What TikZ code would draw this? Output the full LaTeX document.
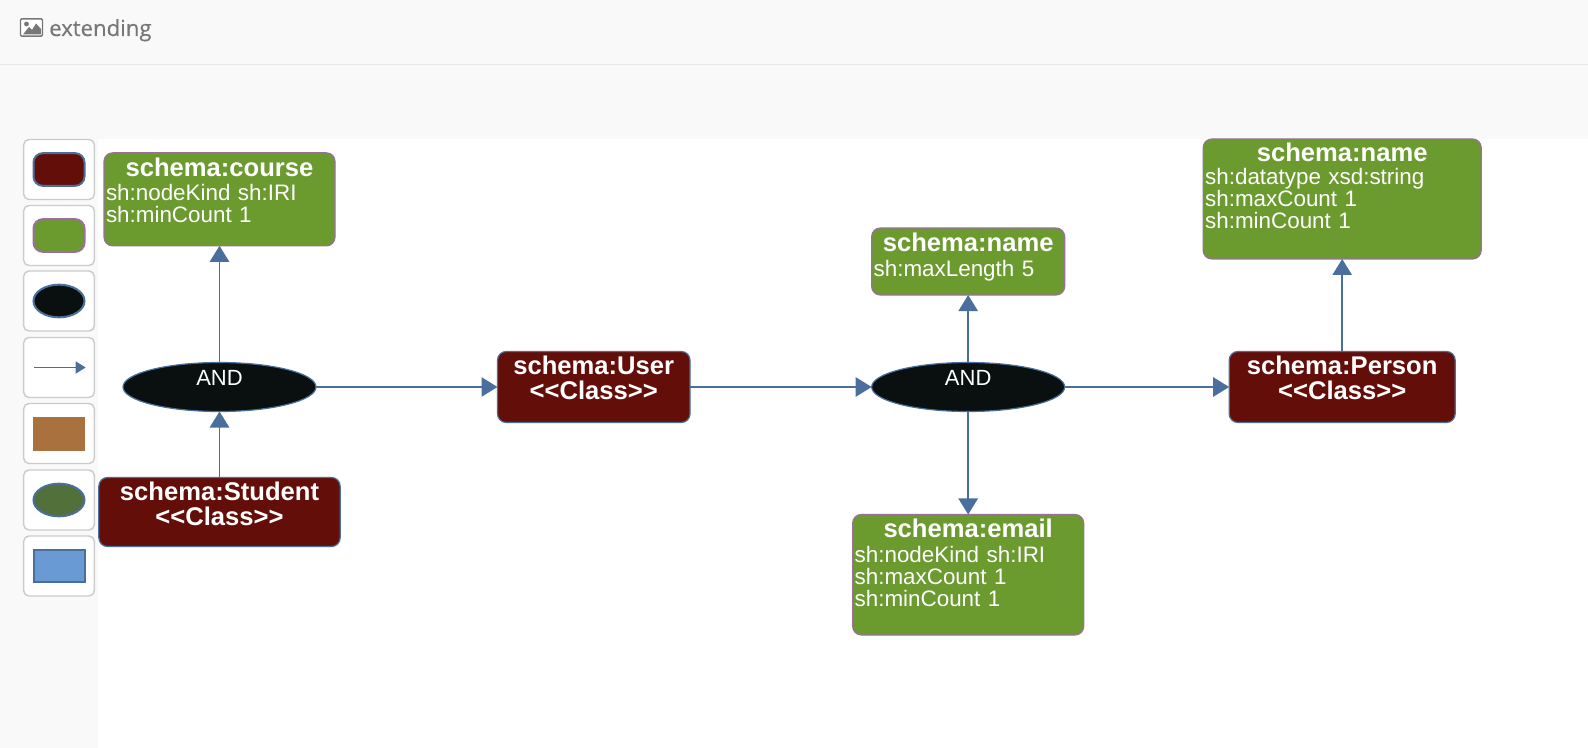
\documentclass[tikz,border=0pt]{standalone}
\usepackage{fontspec}
\setmainfont{Liberation Sans}
\newfontfamily\headfont[FakeBold=0.4]{Open Sans}
\usetikzlibrary{arrows.meta,positioning,shapes.geometric}

\definecolor{panelgray}{HTML}{F9F9F9}
\definecolor{headline}{HTML}{E7E7E7}
\definecolor{headtext}{HTML}{777777}
\definecolor{btnborder}{HTML}{CCCCCC}
\definecolor{edgeblue}{HTML}{4A6F9C}
\definecolor{classred}{HTML}{630E09}
\definecolor{shapegreen}{HTML}{6B9A2F}
\definecolor{shapeborder}{HTML}{9B6F9B}
\definecolor{andblack}{HTML}{0A0F0F}
\definecolor{legendbrown}{HTML}{A9713D}
\definecolor{legendgreen}{HTML}{52703A}
\definecolor{legendblue}{HTML}{6A9AD3}

\newcommand{\shapetitle}[1]{{\centering\bfseries\fontsize{19.2}{25}\selectfont #1\par}\vspace*{2pt}}
\newcommand{\classline}{{<}\kern0pt{<}Class{>}\kern0pt{>}}

\begin{document}
\begin{tikzpicture}[x=0.75pt,y=-0.75pt,>={Triangle[length=12pt,width=14.5pt,fill=edgeblue]},
    edge/.style={->,color=edgeblue,line width=1.2pt},
    class node/.style={rectangle,rounded corners=6.5pt,fill=classred,draw=edgeblue,line width=0.9pt,
      text=white,inner xsep=1.5pt,inner ysep=0pt,outer sep=0pt,align=center,
      font=\bfseries\fontsize{19.2}{18.75}\selectfont},
    shape node/.style={rectangle,rounded corners=6.5pt,fill=shapegreen,draw=shapeborder,line width=0.9pt,
      text=white,inner xsep=1.5pt,inner ysep=0pt,outer sep=0pt,
      font=\fontsize{16.8}{16.5}\selectfont},
    and node/.style={ellipse,fill=andblack,draw=edgeblue,line width=0.9pt,inner sep=0pt,outer sep=0pt,
      minimum width=144.75pt,minimum height=36.75pt,text=white,text height=11.8pt,text depth=13.3pt,
      font=\fontsize{16.5}{18}\selectfont},
    legend button/.style={rectangle,rounded corners=4pt,fill=white,draw=btnborder,line width=1.1pt,
      minimum width=53pt,minimum height=45pt,inner sep=0pt},
    legend glyph/.style={inner sep=0pt,minimum width=38.25pt,minimum height=24.5pt,line width=1.5pt}]
    \useasboundingbox (0,0) rectangle (1588,748);
    \fill[panelgray] (0,0) rectangle (1588,748);
    \fill[white] (98,139) rectangle (1588,748);
    \draw[headline,line width=1.2pt] (0,64.5) -- (1588,64.5);

    % header
    \node[inner sep=0pt,anchor=base west,text=headtext,font=\headfont\fontsize{16.6}{20}\selectfont] (title) at (49,36) {extending};
    \node[draw=headtext,fill=white,rounded corners=1pt,line width=1.1pt,inner sep=0pt,
      minimum width=16.5pt,minimum height=13pt] (titleicon) at (31.5,27.5) {};
    \fill[headtext] (23,34.5) -- (29,27) -- (32,30) -- (36,23.5) -- (41,29) -- (41,34.5) -- cycle;
    \fill[headtext] (26.5,24) circle (2.4);

    % legend
    \foreach \i/\y in {0/169.5,1/235.5,2/301,3/367.5,4/433.5,5/500,6/566}
      \node[legend button] (button\i) at (59,\y) {};
    \node[legend glyph,rectangle,rounded corners=7pt,fill=classred,draw=edgeblue] (legend0) at (button0) {};
    \node[legend glyph,rectangle,rounded corners=7pt,fill=shapegreen,draw=shapeborder] (legend1) at (button1) {};
    \node[legend glyph,ellipse,fill=andblack,draw=edgeblue] (legend2) at (button2) {};
    \coordinate[left=18.5pt of button3.center] (legend3a);
    \coordinate[right=20pt of button3.center] (legend3b);
    \draw[color=edgeblue,line width=1.2pt,-{Triangle[length=7.5pt,width=9pt,fill=edgeblue]}] (legend3a) -- (legend3b);
    \node[legend glyph,rectangle,fill=legendbrown,draw=legendbrown,line width=0.4pt] (legend4) at (button4) {};
    \node[legend glyph,ellipse,fill=legendgreen,draw=edgeblue] (legend5) at (button5) {};
    \node[legend glyph,rectangle,fill=legendblue,draw=edgeblue] (legend6) at (button6) {};

    % diagram
    \node[and node] (and1) at (219.5,387) {AND};
    \node[class node,text width=178pt,minimum height=51.75pt,text height=17.25pt,text depth=34.5pt]
      (student) [below of=and1,node distance=93.75pt] {schema:Student\\\classline};
    \node[shape node,text width=170.25pt,text height=17.5pt,text depth=52.25pt]
      (course) [above of=and1,node distance=140.75pt] {\shapetitle{schema:course}sh:nodeKind sh:IRI\\sh:minCount 1};
    \node[class node,text width=141.4pt,text height=17.25pt,text depth=36pt]
      (user) [right of=and1,node distance=280.7pt] {schema:User\\\classline};
    \node[and node] (and2) [right of=user,node distance=280.8pt] {AND};
    \node[shape node,text width=141.75pt,text height=17.5pt,text depth=32.75pt]
      (name1) [above of=and2,node distance=94.1pt] {\shapetitle{schema:name}sh:maxLength 5};
    \node[shape node,text width=170.25pt,text height=17.25pt,text depth=73.15pt]
      (email) [below of=and2,node distance=140.8pt] {\shapetitle{schema:email}sh:nodeKind sh:IRI\\sh:maxCount 1\\sh:minCount 1};
    \node[class node,text width=166.5pt,text height=17.25pt,text depth=36pt]
      (person) [right of=and2,node distance=280.5pt] {schema:Person\\\classline};
    \node[shape node,text width=205.5pt,text height=17.25pt,text depth=72.75pt]
      (name2) [above of=person,node distance=141pt] {\shapetitle{schema:name}\vspace*{-1.5pt}sh:datatype xsd:string\\sh:maxCount 1\\sh:minCount 1};

    \path[edge]
      (and1) edge (course)
      (student) edge (and1)
      (and1) edge (user)
      (user) edge (and2)
      (and2) edge (name1)
      (and2) edge (email)
      (and2) edge (person)
      (person) edge (name2);
  \end{tikzpicture}
\end{document}
